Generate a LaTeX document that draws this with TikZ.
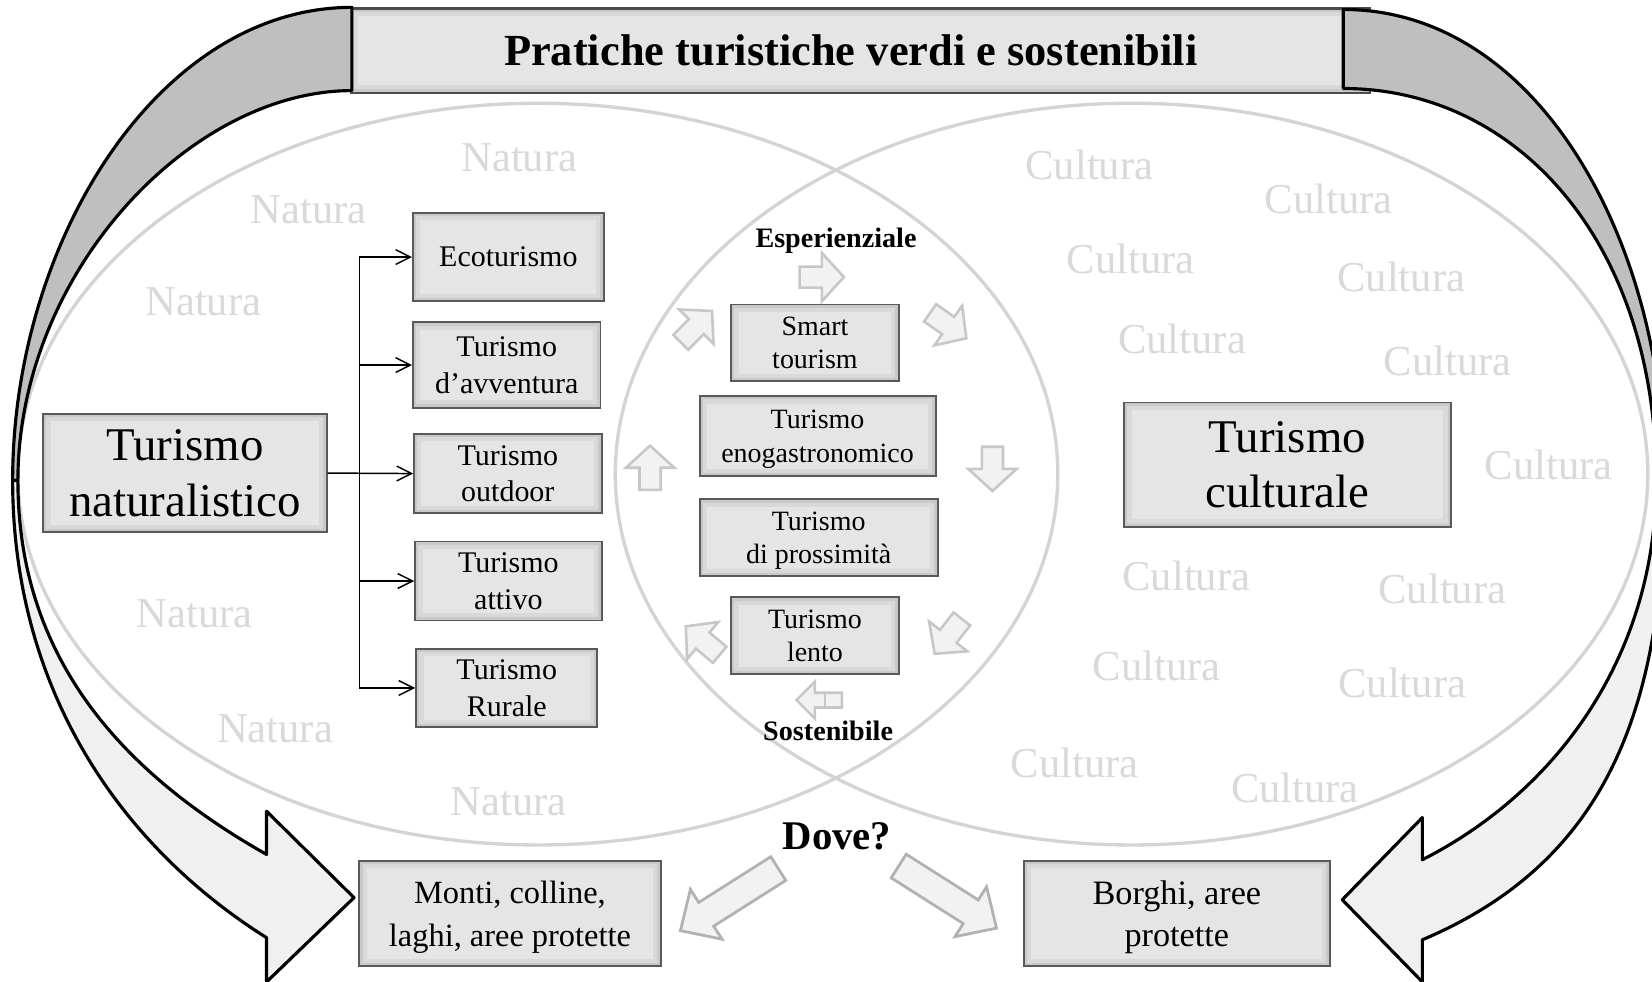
\documentclass[tikz,border=0pt]{standalone}
\usepackage{fontspec}
\setmainfont{Liberation Serif}
\usetikzlibrary{arrows.meta}
\newlength\upx
\setlength\upx{0.02cm}
\tikzset{
  tbox/.style={draw=black!65, line width=1pt, fill=gray!20, inner sep=0pt, align=center, text=black, text depth=-3pt,
    path picture={
      \draw[gray!30, line width=8pt] (path picture bounding box.south west) rectangle (path picture bounding box.north east);
      \draw[gray!42, line width=3.5pt] (path picture bounding box.south west) rectangle (path picture bounding box.north east);}},
  wm/.style={text=black!15, font=\fontsize{23}{27}\selectfont, inner sep=0pt},
  ell/.style={draw=black!17, line width=1.8pt},
  conn/.style={draw=black, line width=0.8pt},
  barbed/.style={-{Straight Barb[length=8pt,width=8pt]}},
  band/.style={draw=black, line width=1.7pt, line join=round},
  carrow/.style={draw=black!22, fill=black!5, line width=1.4pt, line join=miter},
  darrow/.style={draw=black!30, fill=black!5, line width=1.5pt, line join=miter},
  blockarr/.pic={\draw[carrow] (-21,-10) -- (0,-10) -- (0,-23) -- (21,0) -- (0,23) -- (0,10) -- (-21,10) -- cycle;},
  dovearr/.pic={\draw[darrow] (0,-13.3) -- (81,-13.3) -- (81,-28) -- (110,0) -- (81,28) -- (81,13.3) -- (0,13.3) -- cycle;},
  smallf/.style={font=\fontsize{16.2}{19.8}\selectfont},
  centf/.style={font=\fontsize{15.1}{18.1}\selectfont},
  bigf/.style={font=\fontsize{25.3}{30}\selectfont},
}
\begin{document}
\begin{tikzpicture}[x=0.02cm, y=-0.02cm]
\fill[white] (0,0) rectangle (1568,932);
\useasboundingbox (0,0) rectangle (1568,932);
\clip (0,0) rectangle (1568,932);

% ellipses
\draw[ell] (510.5,450) ellipse [x radius=493.5, y radius=352];
\draw[ell] (1074,450) ellipse [x radius=490, y radius=352];

% watermarks
\node[wm] (n1) at (493,150) {Natura};
\node[wm] (n2) at (293,199) {Natura};
\node[wm] (n3) at (193,286) {Natura};
\node[wm] (n4) at (185,583) {Natura};
\node[wm] (n5) at (261,692) {Natura};
\node[wm] (n6) at (483,761) {Natura};
\node[wm] (c1) at (1034,157) {Cultura};
\node[wm] (c2) at (1261,189) {Cultura};
\node[wm] (c3) at (1073,246) {Cultura};
\node[wm] (c4) at (1330,263) {Cultura};
\node[wm] (c5) at (1122,322) {Cultura};
\node[wm] (c6) at (1374,343) {Cultura};
\node[wm] (c7) at (1470,441) {Cultura};
\node[wm] (c8) at (1126,547) {Cultura};
\node[wm] (c9) at (1369,559) {Cultura};
\node[wm] (c10) at (1098,632) {Cultura};
\node[wm] (c11) at (1331,648) {Cultura};
\node[wm] (c12) at (1020,724) {Cultura};
\node[wm] (c13) at (1229,748) {Cultura};

% title bar
\node[tbox, line width=1.2pt, draw=black!70, minimum width=967\upx, minimum height=80\upx] (bar) at (816.5,48) {};
\node[anchor=base, inner sep=0pt, font=\fontsize{24}{28}\selectfont\bfseries] (title) at (807.5,62) {Pratiche turistiche verdi e sostenibili};

% left curved arrow
\draw[band, fill=black!25] (334,7) .. controls (150,7) and (12,230) .. (12,456) -- (17,456) .. controls (17,260) and (180,86) .. (334,86) -- cycle;
\draw[band, fill=black!6] (12,456) .. controls (12,650) and (110,800) .. (253,890) -- (253,932) -- (336,852) -- (253,770) -- (253,811) .. controls (110,730) and (17,620) .. (17,456) -- cycle;

% right curved arrow
\draw[band, fill=black!25] (1275,9) .. controls (1460,9) and (1580,230) .. (1580,456) -- (1572,456) .. controls (1572,230) and (1440,84) .. (1275,84) -- cycle;
\draw[band, fill=black!6] (1580,456) .. controls (1580,680) and (1520,820) .. (1350,892) -- (1350,932) -- (1274,854) -- (1350,776) -- (1350,816) .. controls (1480,750) and (1572,620) .. (1572,456) -- cycle;

% main boxes
\node[tbox, bigf, minimum width=269\upx, minimum height=112\upx] (nat) at (175.5,449) {Turismo\\naturalistico};
\node[tbox, bigf, minimum width=310\upx, minimum height=118\upx] (cul) at (1222,441) {Turismo\\culturale};

\node[tbox, smallf, minimum width=181\upx, minimum height=84\upx] (eco) at (482.5,244) {Ecoturismo};
\node[tbox, smallf, minimum width=178\upx, minimum height=81\upx] (avv) at (481,346.5) {Turismo\\d’avventura};
\node[tbox, smallf, minimum width=178\upx, minimum height=75\upx] (out) at (482,449.5) {Turismo\\outdoor};
\node[tbox, smallf, minimum width=177\upx, minimum height=75\upx] (att) at (482.5,551.5) {Turismo\\attivo};
\node[tbox, smallf, minimum width=172\upx, minimum height=74\upx] (rur) at (481,653) {Turismo\\Rurale};

\node[tbox, centf, minimum width=159\upx, minimum height=73\upx] (smart) at (773.5,325.5) {Smart\\tourism};
\node[tbox, centf, minimum width=224\upx, minimum height=76\upx] (eno) at (776,414) {Turismo\\enogastronomico};
\node[tbox, centf, minimum width=226\upx, minimum height=73\upx] (pros) at (777,510.5) {Turismo\\di prossimità};
\node[tbox, centf, minimum width=159\upx, minimum height=73\upx] (lento) at (773.5,603.5) {Turismo\\lento};

\node[tbox, font=\fontsize{17.5}{23.2}\selectfont, minimum width=286\upx, minimum height=100\upx] (monti) at (484,867) {Monti, colline,\\laghi, aree protette};
\node[tbox, font=\fontsize{18.5}{22.7}\selectfont, minimum width=290\upx, minimum height=100\upx] (borghi) at (1117,867) {Borghi, aree\\protette};

% connectors
\coordinate (jn) at (341,449.5);
\draw[conn, barbed] (nat.east) -- (out.west);
\draw[conn, barbed] (jn) |- (eco.west);
\draw[conn, barbed] (jn) |- (avv.west);
\draw[conn, barbed] (jn) |- (att.west);
\draw[conn, barbed] (jn) |- (rur.west);

% circular block arrows
\pic at (780,263) {blockarr};
\pic[rotate=-35] at (900,309) {blockarr};
\pic[rotate=-90] at (942,445) {blockarr};
\pic[rotate=-128] at (900,604) {blockarr};
\pic[rotate=140] at (667,608) {blockarr};
\pic[rotate=90] at (617,444) {blockarr};
\pic[rotate=45] at (661,310) {blockarr};
\draw[carrow] (756,664.5) -- (773.5,647) -- (773.5,657.5) -- (799,657.5) -- (799,671.5) -- (773.5,671.5) -- (773.5,682) -- cycle;
\draw[carrow, fill=none] (783,657.5) -- (783,671.5);

% labels
\node[anchor=base, inner sep=0pt, font=\fontsize{15.2}{18}\selectfont\bfseries] (esp) at (793.5,235) {Esperienziale};
\node[anchor=base, inner sep=0pt, font=\fontsize{15.2}{18}\selectfont\bfseries] (sos) at (786,703) {Sostenibile};
\node[anchor=base, inner sep=0pt, font=\fontsize{22}{26}\selectfont\bfseries] (dove) at (794.5,806) {Dove?};

% Dove arrows
\pic[rotate=-147.6] at (738.7,824.4) {dovearr};
\pic[rotate=-32.4] at (853,822) {dovearr};
\end{tikzpicture}
\end{document}
